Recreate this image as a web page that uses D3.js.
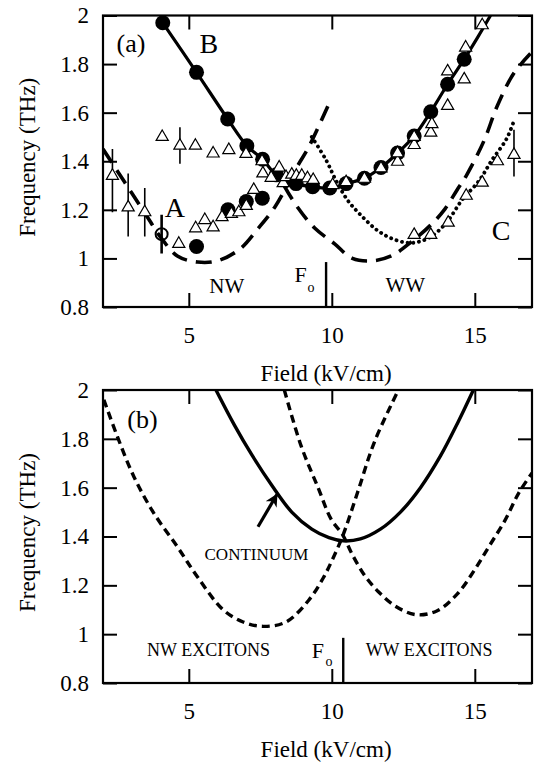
<!DOCTYPE html>
<html lang="en">
<head>
    <meta charset="UTF-8">
    <title>Frequency vs field</title>
    <script src="https://cdnjs.cloudflare.com/ajax/libs/d3/7.8.5/d3.min.js"></script>
    <style>
        body { margin: 0; background: #fff; }
        svg text { font-family: "Liberation Serif", "Times New Roman", "DejaVu Serif", serif; fill: #000; }
    </style>
</head>
<body>

<div id="chart_holder"></div>

<script>
    // ---- data ----
    var xTicks = [5, 10, 15];
    var yTicks = [0.8, 1, 1.2, 1.4, 1.6, 1.8, 2];
    var yTickLabels = ["0.8", "1", "1.2", "1.4", "1.6", "1.8", "2"];

    // panel (a): measured branches
    var circlesB = [[4.09,1.97],[5.27,1.766],[6.36,1.574],[7.03,1.464],[7.58,1.408],[8.06,1.344],
        [8.75,1.308],[9.33,1.295],[9.93,1.29],[10.5,1.308],[11.14,1.33],[11.72,1.374],[12.3,1.434],
        [12.88,1.504],[13.46,1.604],[14.05,1.717],[14.63,1.82]];
    var lineB = [[4.09,1.97],[5.27,1.766],[6.36,1.574],[7.03,1.464],[7.58,1.408],[8.06,1.344],
        [8.75,1.308],[9.33,1.295],[9.93,1.29],[10.5,1.308],[11.14,1.33],[11.72,1.374],[12.3,1.434],
        [12.88,1.504],[13.46,1.604],[14.05,1.717],[14.63,1.82],[15.1,1.91],[15.55,2.0]];
    var circlesA = [[5.27,1.049],[6.37,1.20],[7.01,1.234],[7.57,1.248]];
    var openCircle = [[4.05,1.10,1.02,1.18]];
    var triangles = [[4.07,1.50],[4.69,1.464],[5.23,1.464],[5.85,1.432],[6.4,1.446],[7.0,1.43],
        [7.56,1.40],[8.16,1.374],[2.33,1.34],[2.88,1.21],[3.46,1.19],
        [4.65,1.06],[5.24,1.124],[5.56,1.158],[5.85,1.128],[6.16,1.17],[6.49,1.183],[6.75,1.19],
        [7.01,1.216],[7.27,1.282],[7.59,1.35],[7.88,1.332],[8.3,1.31],[8.4,1.335],[8.6,1.345],
        [8.76,1.34],[8.95,1.34],[9.15,1.33],[9.35,1.323],[10.03,1.302],[10.5,1.314],[11.14,1.328],
        [11.72,1.371],[12.3,1.398],[12.3,1.433],[12.88,1.467],[12.88,1.50],[13.46,1.518],
        [13.5,1.553],[14.05,1.628],[14.63,1.737],[14.05,1.77],[14.68,1.868],[15.26,1.96],
        [12.88,1.097],[13.46,1.097],[14.07,1.147],[14.7,1.258],[15.26,1.312],[15.79,1.40],[16.37,1.426]];
    // error bars: field, low, high
    var errorBars = [[2.33,1.19,1.45],[2.88,1.09,1.35],[3.46,1.09,1.29],[4.69,1.39,1.54],[16.37,1.337,1.53]];

    // panel (a): model curves
    var dashNW_a = [[2.0,1.45],[2.5,1.36],[3.0,1.27],[3.5,1.18],[4.0,1.09],[4.6,1.01],[5.3,0.985],
        [6.0,0.99],[6.8,1.04],[7.4,1.12],[8.0,1.21],[8.8,1.38],[9.2,1.46],[9.95,1.65]];
    var dashWW_a = [[8.33,1.30],[8.77,1.216],[9.4,1.125],[10.1,1.06],[10.72,1.0],[11.4,0.99],
        [12.08,1.01],[12.78,1.068],[13.48,1.14],[13.96,1.204],[14.38,1.282],[14.7,1.34],
        [15.32,1.484],[15.8,1.632],[16.37,1.763],[17.0,1.85]];
    var dotC = [[9.3,1.5],[9.8,1.405],[10.15,1.32],[10.55,1.24],[11.0,1.18],[11.6,1.115],
        [12.2,1.077],[12.8,1.064],[13.4,1.085],[14.0,1.146],[14.55,1.24],[15.15,1.32],
        [15.6,1.405],[16.1,1.49],[16.35,1.56]];

    // panel (b): calculated curves
    var continuum = [[5.95,2.0],[6.6,1.855],[7.2,1.735],[7.9,1.61],[8.6,1.50],[9.3,1.43],[9.9,1.395],
        [10.4,1.382],[11.0,1.39],[11.7,1.43],[12.4,1.50],[13.1,1.60],[13.8,1.73],[14.4,1.865],[14.95,2.0]];
    var excitonNW = [[2.03,1.96],[2.5,1.81],[3.08,1.645],[3.78,1.495],[4.6,1.358],[5.3,1.235],
        [6.2,1.10],[6.9,1.05],[7.6,1.032],[8.4,1.05],[9.2,1.14],[9.7,1.23],[10.0,1.30],[10.39,1.405],
        [10.9,1.58],[11.5,1.79],[12.33,2.0]];
    var excitonWW = [[8.34,2.0],[8.93,1.77],[9.52,1.60],[9.98,1.47],[10.39,1.405],[10.7,1.33],
        [11.15,1.24],[11.62,1.175],[12.22,1.115],[12.94,1.08],[13.67,1.095],[14.39,1.165],
        [14.99,1.263],[15.5,1.36],[16.06,1.467],[16.53,1.577],[17.0,1.66]];
    var arrowB = [[7.42,1.44],[8.08,1.572]];

    var fieldFo = [9.8, 10.4];

    // ---- layout ----
    var width = 537;
    var height = 764;
    var serif = '"Liberation Serif", "Times New Roman", "DejaVu Serif", serif';

    var svg = d3.select("#chart_holder")
        .append("svg")
        .attr("width", width)
        .attr("height", height)
        .style("font-family", serif);

    svg.append("rect")
        .attr("width", "100%")
        .attr("height", "100%")
        .attr("fill", "#ffffff");

    var x = d3.scaleLinear().domain([2, 17]).range([103, 532]);
    var yA = d3.scaleLinear().domain([0.8, 2]).range([307, 15.5]);
    var yB = d3.scaleLinear().domain([0.8, 2]).range([683, 390]);

    svg.append("clipPath").attr("id", "clipA").append("rect")
        .attr("x", 103).attr("y", 15.5).attr("width", 429).attr("height", 291.5);
    svg.append("clipPath").attr("id", "clipB").append("rect")
        .attr("x", 103).attr("y", 390).attr("width", 429).attr("height", 293);

    function drawFrame(y) {
        var g = svg.append("g");
        var y0 = y.range()[0], y1 = y.range()[1];

        g.append("g")
            .attr("transform", "translate(0," + y0 + ")")
            .call(d3.axisBottom(x).tickValues(xTicks).tickSizeInner(-14).tickSizeOuter(0).tickPadding(20));
        g.append("g")
            .attr("transform", "translate(0," + y1 + ")")
            .call(d3.axisTop(x).tickValues(xTicks).tickSizeInner(-14).tickSizeOuter(0).tickFormat(""));
        g.append("g")
            .attr("transform", "translate(103,0)")
            .call(d3.axisLeft(y).tickValues(yTicks).tickSizeInner(-14).tickSizeOuter(0).tickPadding(14)
                .tickFormat(function(d, i) { return yTickLabels[i]; }));
        g.append("g")
            .attr("transform", "translate(532,0)")
            .call(d3.axisRight(y).tickValues(yTicks).tickSizeInner(-14).tickSizeOuter(0).tickFormat(""));

        g.selectAll("g").attr("font-family", null).attr("font-size", null);
        g.selectAll(".domain").remove();
        g.selectAll(".tick line").attr("stroke", "#000").attr("stroke-width", 2);
        g.selectAll(".tick text").style("font-family", serif).style("font-size", "23px").attr("fill", "#000");

        g.append("rect")
            .attr("x", 103).attr("y", y1)
            .attr("width", 429).attr("height", y0 - y1)
            .attr("fill", "none").attr("stroke", "#000").attr("stroke-width", 2.2);

        svg.append("text")
            .attr("transform", "translate(27," + ((y0 + y1) / 2 - 4) + ") rotate(-90)")
            .attr("text-anchor", "middle")
            .attr("dy", "0.35em")
            .style("font-size", "23px")
            .text("Frequency (THz)");
    }

    function curve(y) {
        return d3.line()
            .x(function(d) { return x(d[0]); })
            .y(function(d) { return y(d[1]); })
            .curve(d3.curveCatmullRom.alpha(0.5));
    }

    function label(t, px, py, size, anchor) {
        return svg.append("text")
            .attr("x", px).attr("y", py)
            .style("font-size", size + "px")
            .attr("text-anchor", anchor || "middle")
            .text(t);
    }

    // ================= panel (a) =================
    drawFrame(yA);
    var pa = svg.append("g").attr("clip-path", "url(#clipA)");
    var lineA = curve(yA);

    pa.append("path").datum(dashNW_a).attr("d", lineA)
        .attr("fill", "none").attr("stroke", "#000").attr("stroke-width", 3.6)
        .attr("stroke-dasharray", "16,9");
    pa.append("path").datum(dashWW_a).attr("d", lineA)
        .attr("fill", "none").attr("stroke", "#000").attr("stroke-width", 3.6)
        .attr("stroke-dasharray", "16,9");
    pa.append("path").datum(dotC).attr("d", lineA)
        .attr("fill", "none").attr("stroke", "#000").attr("stroke-width", 3.8)
        .attr("stroke-linecap", "round").attr("stroke-dasharray", "0.1,5.6");
    pa.append("path").datum(lineB).attr("d", lineA)
        .attr("fill", "none").attr("stroke", "#000").attr("stroke-width", 3.2);

    pa.selectAll(".ebar").data(errorBars).enter().append("line")
        .attr("x1", function(d) { return x(d[0]); }).attr("x2", function(d) { return x(d[0]); })
        .attr("y1", function(d) { return yA(d[1]); }).attr("y2", function(d) { return yA(d[2]); })
        .attr("stroke", "#000").attr("stroke-width", 1.6);

    pa.selectAll(".obar").data(openCircle).enter().append("line")
        .attr("x1", function(d) { return x(d[0]); }).attr("x2", function(d) { return x(d[0]); })
        .attr("y1", function(d) { return yA(d[2]); }).attr("y2", function(d) { return yA(d[3]); })
        .attr("stroke", "#000").attr("stroke-width", 2.6);
    pa.selectAll(".ocirc").data(openCircle).enter().append("circle")
        .attr("cx", function(d) { return x(d[0]); }).attr("cy", function(d) { return yA(d[1]); })
        .attr("r", 6).attr("fill", "none").attr("stroke", "#000").attr("stroke-width", 2);

    pa.selectAll(".cb").data(circlesB.concat(circlesA)).enter().append("circle")
        .attr("cx", function(d) { return x(d[0]); }).attr("cy", function(d) { return yA(d[1]); })
        .attr("r", 7.5).attr("fill", "#000");

    pa.selectAll(".tri").data(triangles).enter().append("path")
        .attr("d", d3.symbol(d3.symbolTriangle, 64))
        .attr("transform", function(d) { return "translate(" + x(d[0]) + "," + yA(d[1]) + ")"; })
        .attr("fill", "#fff").attr("stroke", "#000").attr("stroke-width", 1.2);

    // F_o marker
    svg.append("line")
        .attr("x1", x(fieldFo[0])).attr("x2", x(fieldFo[0]))
        .attr("y1", yA(0.8)).attr("y2", yA(0.985))
        .attr("stroke", "#000").attr("stroke-width", 2.4);

    label("(a)", x(2.98), yA(1.85), 26);
    label("B", x(5.70), yA(1.846), 28);
    label("A", x(4.51), yA(1.171), 28);
    label("C", x(15.92), yA(1.076), 28);
    label("NW", x(6.33), yA(0.858), 21);
    label("WW", x(12.57), yA(0.862), 21);
    label("F", x(8.70), yA(0.903), 22, "start");
    label("o", x(9.15), yA(0.862), 14, "start");
    label("Field (kV/cm)", x(9.8), 381, 23);

    // ================= panel (b) =================
    drawFrame(yB);
    var pb = svg.append("g").attr("clip-path", "url(#clipB)");
    var lineBcurve = curve(yB);

    pb.append("path").datum(excitonNW).attr("d", lineBcurve)
        .attr("fill", "none").attr("stroke", "#000").attr("stroke-width", 3.4)
        .attr("stroke-dasharray", "8,5");
    pb.append("path").datum(excitonWW).attr("d", lineBcurve)
        .attr("fill", "none").attr("stroke", "#000").attr("stroke-width", 3.4)
        .attr("stroke-dasharray", "8,5");
    pb.append("path").datum(continuum).attr("d", lineBcurve)
        .attr("fill", "none").attr("stroke", "#000").attr("stroke-width", 3.4);

    svg.append("defs").append("marker")
        .attr("id", "arrowhead")
        .attr("viewBox", "0 0 10 10")
        .attr("refX", 9).attr("refY", 5)
        .attr("markerWidth", 4).attr("markerHeight", 4)
        .attr("markerUnits", "strokeWidth")
        .attr("orient", "auto")
        .append("path")
        .attr("d", "M0,0 L10,5 L0,10 L3,5 Z")
        .attr("fill", "#000");

    pb.append("line")
        .attr("x1", x(arrowB[0][0])).attr("y1", yB(arrowB[0][1]))
        .attr("x2", x(arrowB[1][0])).attr("y2", yB(arrowB[1][1]))
        .attr("stroke", "#000").attr("stroke-width", 3.2)
        .attr("marker-end", "url(#arrowhead)");

    svg.append("line")
        .attr("x1", x(fieldFo[1])).attr("x2", x(fieldFo[1]))
        .attr("y1", yB(0.8)).attr("y2", yB(0.985))
        .attr("stroke", "#000").attr("stroke-width", 2.4);

    label("(b)", x(3.38), yB(1.844), 26);
    label("CONTINUUM", x(5.55), yB(1.304), 17, "start");
    label("NW EXCITONS", x(5.69), yB(0.911), 18);
    label("WW EXCITONS", x(13.4), yB(0.911), 18);
    label("F", x(9.3), yB(0.904), 22, "start");
    label("o", x(9.78), yB(0.87), 14, "start");
    label("Field (kV/cm)", x(9.8), 757, 23);
</script>

</body>
</html>
